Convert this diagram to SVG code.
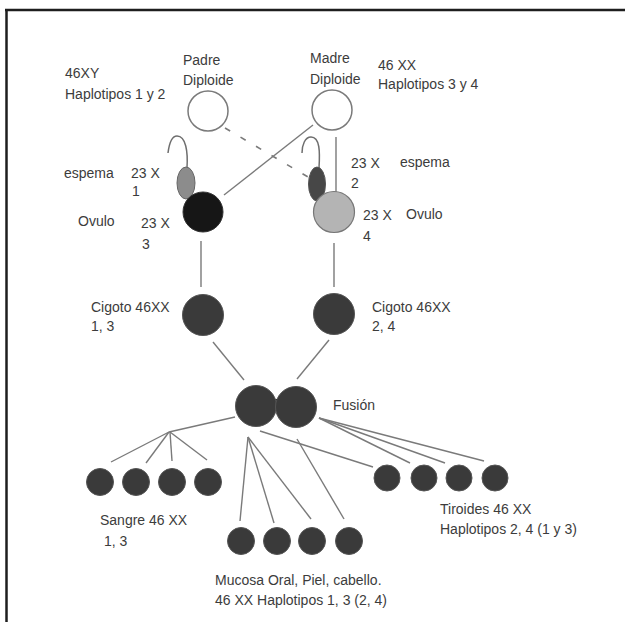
<svg xmlns="http://www.w3.org/2000/svg" width="625" height="622" viewBox="0 0 625 622">
  <style>
    text { font-family: "Liberation Sans", Arial, sans-serif; font-size: 14px; fill: #3c3c3c; }
    .frame { stroke: #1e1e1e; stroke-width: 2.5; fill: none; }
    .link { stroke: #7a7a7a; stroke-width: 1.4; fill: none; }
    .dash { stroke: #7a7a7a; stroke-width: 1.6; fill: none; stroke-dasharray: 6 12; }
    .tail { stroke: #6e6e6e; stroke-width: 1.5; fill: none; }
    .diploid { fill: #ffffff; stroke: #7a7a7a; stroke-width: 1.5; }
    .cell { fill: #3a3a3a; stroke: #555555; stroke-width: 1; }
    .small { fill: #3a3a3a; stroke: #555555; stroke-width: 1; }
  </style>

  <rect width="625" height="622" fill="#ffffff"/>

  <!-- page frame: top and left rules -->
  <g id="frame">
    <line class="frame" x1="5" y1="10" x2="625" y2="10"/>
    <line class="frame" x1="6.5" y1="9" x2="6.5" y2="622"/>
  </g>

  <!-- connectors -->
  <g id="connectors">
    <line class="link" x1="313" y1="125" x2="224" y2="195"/>
    <line class="dash" x1="225" y1="128" x2="308" y2="177"/>
    <line class="link" x1="336" y1="137" x2="336" y2="192"/>
    <line class="link" x1="201" y1="241" x2="201" y2="287"/>
    <line class="link" x1="334" y1="243" x2="334" y2="287"/>
    <line class="link" x1="213" y1="342" x2="244" y2="380"/>
    <line class="link" x1="329" y1="340" x2="297" y2="379"/>
    <!-- blood branch -->
    <line class="link" x1="235" y1="417" x2="169" y2="432"/>
    <line class="link" x1="169" y1="432" x2="111" y2="462"/>
    <line class="link" x1="169" y1="432" x2="146" y2="463"/>
    <line class="link" x1="170" y1="432" x2="172" y2="461"/>
    <line class="link" x1="170" y1="432" x2="207" y2="460"/>
    <!-- mucosa branch -->
    <line class="link" x1="248" y1="437" x2="240" y2="521"/>
    <line class="link" x1="248" y1="437" x2="274" y2="523"/>
    <line class="link" x1="248" y1="437" x2="311" y2="519"/>
    <line class="link" x1="297" y1="439" x2="344" y2="519"/>
    <!-- thyroid branch -->
    <line class="link" x1="260" y1="431" x2="373" y2="467"/>
    <line class="link" x1="319" y1="418" x2="410" y2="463"/>
    <line class="link" x1="319" y1="418" x2="445" y2="463"/>
    <line class="link" x1="319" y1="418" x2="484" y2="461"/>
  </g>

  <!-- parents -->
  <g id="padre">
    <circle class="diploid" cx="208" cy="111" r="20"/>
    <text x="183" y="65">Padre</text>
    <text x="183" y="85">Diploide</text>
    <text x="65" y="78">46XY</text>
    <text x="65" y="99">Haplotipos 1 y 2</text>
  </g>
  <g id="madre">
    <circle class="diploid" cx="332" cy="110" r="20"/>
    <text x="310" y="63">Madre</text>
    <text x="310" y="84">Diploide</text>
    <text x="378" y="70">46 XX</text>
    <text x="378" y="89">Haplotipos 3 y 4</text>
  </g>

  <!-- gametes, left -->
  <g id="espema-1">
    <path class="tail" d="M187,168 C188,152 186,136 177,136 C171,136 169,145 168,153"/>
    <ellipse cx="186" cy="183" rx="9" ry="16" fill="#8c8c8c" stroke="#666666" stroke-width="1"/>
    <text x="64" y="178">espema</text>
    <text x="131" y="178">23 X</text>
    <text x="132" y="196">1</text>
  </g>
  <g id="ovulo-3">
    <circle cx="203" cy="212" r="20" fill="#161616" stroke="#333333" stroke-width="1"/>
    <text x="78" y="226">Ovulo</text>
    <text x="141" y="228">23 X</text>
    <text x="142" y="249">3</text>
  </g>

  <!-- gametes, right -->
  <g id="espema-2">
    <path class="tail" d="M319,168 C320,152 320,137 311,137 C305,137 302,145 302,153"/>
    <ellipse cx="317" cy="184" rx="8.5" ry="17" fill="#474747" stroke="#555555" stroke-width="1"/>
    <text x="351" y="168">23 X</text>
    <text x="351" y="188">2</text>
    <text x="400" y="167">espema</text>
  </g>
  <g id="ovulo-4">
    <circle cx="334" cy="212" r="20.5" fill="#b4b4b4" stroke="#777777" stroke-width="1.2"/>
    <text x="363" y="220">23 X</text>
    <text x="363" y="241">4</text>
    <text x="406" y="219">Ovulo</text>
  </g>

  <!-- zygotes -->
  <g id="cigoto-1-3">
    <circle class="cell" cx="203" cy="315" r="20.5"/>
    <text x="91" y="312">Cigoto 46XX</text>
    <text x="91" y="331">1, 3</text>
  </g>
  <g id="cigoto-2-4">
    <circle class="cell" cx="334" cy="314" r="20.5"/>
    <text x="372" y="312">Cigoto 46XX</text>
    <text x="372" y="331">2, 4</text>
  </g>

  <!-- fusion -->
  <g id="fusion">
    <rect x="272" y="399" width="8" height="12" fill="#111111"/>
    <circle class="cell" cx="256" cy="406" r="20.5"/>
    <circle class="cell" cx="296" cy="407" r="20.5"/>
    <text x="333" y="410">Fusión</text>
  </g>

  <!-- tissues -->
  <g id="sangre">
    <circle class="small" cx="100" cy="482" r="13.5"/>
    <circle class="small" cx="136" cy="482" r="13.5"/>
    <circle class="small" cx="172" cy="482" r="13.5"/>
    <circle class="small" cx="208" cy="482" r="13.5"/>
    <text x="100" y="525">Sangre 46 XX</text>
    <text x="104" y="546">1, 3</text>
  </g>
  <g id="mucosa">
    <circle class="small" cx="241" cy="541" r="13.5"/>
    <circle class="small" cx="277" cy="541" r="13.5"/>
    <circle class="small" cx="312" cy="541" r="13.5"/>
    <circle class="small" cx="349" cy="541" r="13.5"/>
    <text x="215" y="585">Mucosa Oral, Piel, cabello.</text>
    <text x="215" y="605">46 XX Haplotipos 1, 3 (2, 4)</text>
  </g>
  <g id="tiroides">
    <circle class="small" cx="387" cy="478" r="13"/>
    <circle class="small" cx="424" cy="478" r="13"/>
    <circle class="small" cx="459" cy="478" r="13"/>
    <circle class="small" cx="495" cy="478" r="13"/>
    <text x="440" y="514">Tiroides 46 XX</text>
    <text x="440" y="534">Haplotipos 2, 4 (1 y 3)</text>
  </g>
</svg>
